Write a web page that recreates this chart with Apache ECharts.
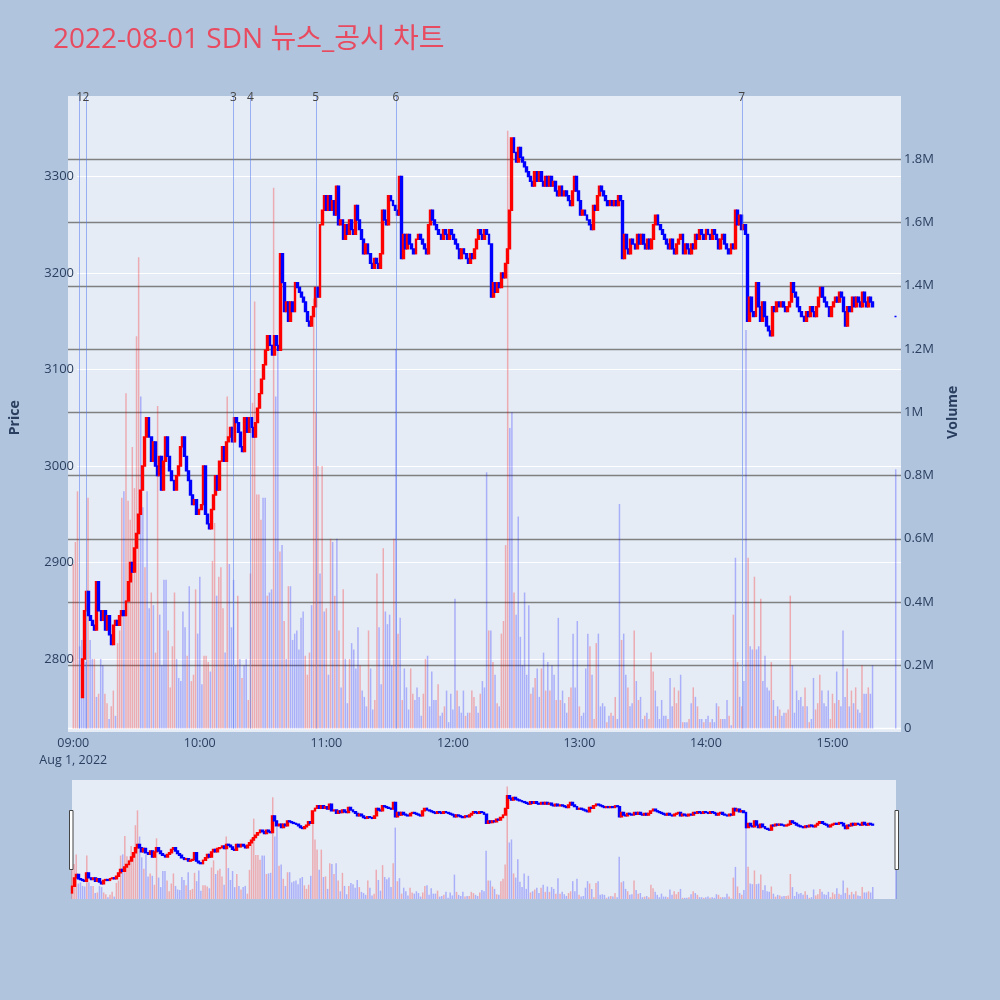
<!DOCTYPE html>
<html>
<head>
<meta charset="utf-8">
<script src="https://cdn.jsdelivr.net/npm/echarts@6/dist/echarts.min.js"></script>
<style>
html,body{margin:0;padding:0;background:#b0c4de;}
#chart{width:1000px;height:1000px;}
</style>
</head>
<body>
<div id="chart"></div>
<script>
// ---- data (1-minute candles from 09:00) ----
const sessionStart = '09:00';
const firstOpen = 2760;
const closes = [
  2800,2850,2870,2845,2840,2835,2830,2880,2850,2840,
  2850,2830,2845,2825,2815,2835,2840,2835,2845,2850,
  2845,2860,2880,2900,2890,2915,2930,2950,2975,3000,
  3030,3050,3030,3005,3025,3000,2990,3010,2975,3005,
  3030,3010,2995,2985,2975,2990,3000,3020,3030,3010,
  2995,2985,2970,2960,2965,2950,2955,2960,3000,2950,
  2940,2935,2955,2970,2990,2975,3005,3020,3005,3025,
  3030,3040,3025,3050,3045,3035,3020,3015,3050,3035,
  3050,3040,3030,3045,3060,3075,3090,3105,3120,3135,
  3125,3115,3135,3125,3120,3220,3190,3160,3170,3150,
  3170,3160,3190,3185,3180,3175,3170,3160,3150,3145,
  3155,3165,3185,3175,3250,3265,3280,3265,3280,3265,
  3275,3260,3290,3250,3255,3235,3250,3240,3255,3245,
  3240,3270,3255,3245,3235,3220,3230,3220,3210,3205,
  3215,3210,3205,3220,3265,3255,3250,3280,3275,3270,
  3265,3260,3300,3215,3240,3225,3240,3230,3225,3220,
  3235,3240,3235,3230,3225,3220,3250,3265,3255,3250,
  3245,3240,3235,3245,3240,3235,3245,3240,3235,3230,
  3225,3215,3225,3220,3215,3210,3220,3215,3225,3235,
  3245,3240,3235,3245,3240,3230,3175,3190,3180,3190,
  3185,3200,3195,3210,3225,3265,3340,3325,3315,3330,
  3320,3315,3310,3305,3300,3295,3290,3305,3295,3305,
  3295,3290,3300,3290,3300,3290,3295,3285,3280,3290,
  3280,3285,3280,3275,3270,3285,3300,3285,3275,3260,
  3265,3260,3255,3250,3245,3270,3265,3280,3290,3285,
  3280,3275,3270,3275,3270,3275,3270,3280,3275,3215,
  3240,3225,3220,3235,3230,3225,3240,3230,3240,3230,
  3225,3235,3225,3235,3250,3260,3250,3245,3240,3235,
  3230,3225,3235,3225,3220,3230,3235,3240,3220,3230,
  3225,3220,3230,3225,3240,3235,3245,3240,3235,3245,
  3240,3235,3245,3240,3235,3225,3235,3240,3230,3225,
  3220,3230,3225,3265,3250,3260,3245,3250,3240,3150,
  3175,3160,3155,3190,3165,3150,3170,3155,3145,3140,
  3135,3165,3160,3170,3165,3170,3165,3160,3165,3170,
  3190,3180,3175,3165,3160,3155,3150,3160,3155,3165,
  3160,3155,3165,3175,3185,3175,3170,3165,3155,3165,
  3170,3175,3170,3180,3175,3160,3145,3165,3160,3175,
  3165,3175,3170,3165,3180,3170,3165,3175,3170,3165
];
// volume per minute, millions of shares
const volumesM = [
  .52,.59,.75,.26,.28,.22,.21,.73,.28,.22,
  .22,.10,.11,.22,.20,.11,.08,.03,.07,.12,
  .04,.27,.31,.73,.75,1.06,.72,.66,.89,.76,
  1.24,1.49,1.05,.70,.51,.75,.38,.43,.39,.24,
  1.02,.36,.20,.47,.47,.31,.13,.26,.43,.22,
  .16,.15,.37,.32,.23,.45,.15,.17,.44,.30,
  .48,.14,.23,.23,.21,.18,.53,.65,.42,.48,
  .51,.38,.24,1.05,.52,.32,.47,.20,.42,.22,
  .16,.20,.22,.09,.49,1.03,1.35,.74,.74,.66,
  .73,.73,.42,.43,.44,1.71,1.05,1.21,.56,.58,
  .34,.22,.45,.45,.28,.30,.31,.25,.35,.37,
  .23,.17,.24,.39,1.36,1.0,.83,.49,.83,.37,
  .38,.17,.60,.59,.42,.60,.31,.13,.44,.22,
  .08,.22,.27,.25,.19,.32,.20,.12,.10,.07,
  .31,.19,.06,.09,.49,.32,.14,.57,.37,.33,
  .36,.20,.60,1.2,.30,.35,.09,.19,.13,.06,
  .19,.11,.09,.13,.10,.04,.11,.22,.23,.07,
  .18,.09,.09,.14,.04,.05,.07,.12,.02,.11,
  .06,.41,.12,.07,.05,.12,.04,.05,.05,.12,
  .10,.07,.05,.11,.15,.13,.81,.31,.31,.21,
  .17,.08,.07,.30,.34,.58,1.89,.95,1.0,.43,
  .36,.67,.29,.20,.43,.17,.39,.11,.13,.16,
  .19,.10,.19,.24,.12,.21,.12,.20,.17,.09,
  .35,.09,.12,.08,.05,.10,.13,.30,.13,.34,
  .07,.04,.05,.19,.30,.26,.17,.03,.27,.30,
  .07,.08,.07,.02,.04,.05,.04,.10,.03,.71,
  .28,.30,.17,.13,.07,.08,.31,.15,.09,.10,
  .03,.04,.05,.03,.24,.18,.12,.07,.03,.09,
  .04,.04,.03,.16,.07,.13,.08,.12,.17,.02,
  .02,.02,.03,.08,.13,.10,.07,.03,.03,.02,
  .03,.04,.02,.03,.02,.08,.07,.03,.03,.03,
  .09,.04,.01,.36,.54,.21,.10,.07,.15,1.26,
  .54,.26,.25,.48,.25,.26,.41,.15,.23,.13,
  .12,.21,.09,.04,.07,.06,.04,.05,.05,.06,
  .42,.20,.05,.12,.09,.10,.07,.13,.07,.02,
  .03,.16,.06,.08,.17,.12,.08,.07,.12,.03,
  .11,.08,.18,.09,.07,.31,.10,.19,.07,.12,
  .08,.13,.06,.05,.20,.11,.11,.13,.11,.20
];
// closing single-price auction
const auctionTime = '15:30';
const auctionPrice = 3155;
const auctionVolumeM = 0.82;
// news / disclosure markers
const eventTimes = ['09:03','09:06','10:16','10:24','10:55','11:33','14:17'];
const eventLabels = ['1','2','3','4','5','6','7'];
const titleText = '2022-08-01 SDN 뉴스_공시 차트';

// ---- helpers ----
function toMin(s){const p=s.split(':');return (+p[0])*60+(+p[1]);}
function toStr(m){const h=Math.floor(m/60),mm=m%60;return (h<10?'0':'')+h+':'+(mm<10?'0':'')+mm;}
const startMin = toMin(sessionStart);
const axisFrom = toMin('08:58'), axisTo = toMin('15:32');
const cats = []; for(let t=axisFrom;t<=axisTo;t++) cats.push(toStr(t));
const miniCats = []; for(let t=startMin;t<=toMin(auctionTime);t++) miniCats.push(toStr(t));

const UP='#ff0000', DOWN='#0000ff';
const UPV='rgba(255,0,0,0.28)', DOWNV='rgba(0,0,255,0.26)';

function buildSeriesData(catList){
  const k=new Array(catList.length).fill('-');
  const v=new Array(catList.length).fill('-');
  for(let i=0;i<closes.length;i++){
    const o = i===0?firstOpen:closes[i-1], c=closes[i];
    const idx = catList.indexOf(toStr(startMin+i));
    k[idx]=[o,c,Math.min(o,c),Math.max(o,c)];
    v[idx]={value:volumesM[i],itemStyle:{color:c>=o?UPV:DOWNV}};
  }
  const ai = catList.indexOf(auctionTime);
  k[ai]={value:[auctionPrice,auctionPrice,auctionPrice,auctionPrice],itemStyle:{color:DOWN,color0:DOWN,borderColor:DOWN,borderColor0:DOWN}};
  v[ai]={value:auctionVolumeM,itemStyle:{color:DOWNV}};
  return {k,v};
}
const mainData = buildSeriesData(cats);
const miniData = buildSeriesData(miniCats);

const FONT='"Open Sans", "Noto Sans CJK KR", sans-serif';
const TXT='#2a3f5f';
const candleStyle={color:UP,color0:DOWN,borderColor:UP,borderColor0:DOWN,borderWidth:1.4};

const chart = echarts.init(document.getElementById('chart'));
chart.setOption({
  animation:false,
  backgroundColor:'#b0c4de',
  textStyle:{fontFamily:FONT},
  title:{text:titleText,left:48,top:21,textStyle:{color:'#e84a5f',fontSize:28,fontWeight:'normal',fontFamily:FONT}},
  graphic:[
    {type:'rect',z:-10,silent:true,shape:{x:68,y:96,width:833,height:636},style:{fill:'#e5ecf6'}},
    {type:'rect',z:-10,silent:true,shape:{x:72,y:780,width:824,height:119},style:{fill:'#e5ecf6'}},
    {type:'rect',z:50,silent:true,shape:{x:69.5,y:810.5,width:3.5,height:59},style:{fill:'#ffffff',stroke:'#444',lineWidth:1}},
    {type:'rect',z:50,silent:true,shape:{x:895,y:810.5,width:3.5,height:59},style:{fill:'#ffffff',stroke:'#444',lineWidth:1}}
  ],
  grid:[
    {left:68,width:833,top:80,height:675.5},
    {left:68,width:833,top:96,height:632.5},
    {left:72,width:824,top:780,height:119},
    {left:72,width:824,top:780,height:119}
  ],
  xAxis:[
    {type:'category',gridIndex:0,data:cats,boundaryGap:true,show:false},
    {type:'category',gridIndex:1,data:cats,boundaryGap:true,
     axisLine:{show:false},axisTick:{show:false},splitLine:{show:false},
     axisLabel:{color:TXT,fontSize:12.5,fontFamily:FONT,margin:6,lineHeight:17,
       interval:function(i,v){return /:00$/.test(v);},
       formatter:function(v){return v===sessionStart?v+'\nAug 1, 2022':v;}}},
    {type:'category',gridIndex:2,data:miniCats,boundaryGap:false,show:false},
    {type:'category',gridIndex:3,data:miniCats,boundaryGap:false,show:false}
  ],
  yAxis:[
    {type:'value',gridIndex:0,min:2700,max:3400,interval:100,position:'left',
     axisLine:{show:false},axisTick:{show:false},
     axisLabel:{color:TXT,fontSize:13,fontFamily:FONT,margin:3,
       formatter:function(v){return (v<2750||v>3350)?'':String(v);}},
     splitLine:{show:true,lineStyle:{width:1,color:['rgba(0,0,0,0)','#ffffff','#ffffff','#ffffff','#ffffff','#ffffff','#ffffff','rgba(0,0,0,0)']}},
     name:'Price',nameLocation:'middle',nameRotate:90,nameGap:55,
     nameTextStyle:{color:TXT,fontSize:14,fontWeight:'bold',fontFamily:FONT}},
    {type:'value',gridIndex:1,min:0,max:2.0,interval:0.2,position:'right',
     axisLine:{show:false},axisTick:{show:false},
     axisLabel:{color:TXT,fontSize:13,fontFamily:FONT,margin:3,
       formatter:function(v){return v===0?'0':(v>1.95?'':(+v.toFixed(1))+'M');}},
     splitLine:{show:true,lineStyle:{width:1.3,color:['#ffffff','#808080','#808080','#808080','#808080','#808080','#808080','#808080','#808080','#808080','rgba(0,0,0,0)']}},
     name:'Volume',nameLocation:'middle',nameRotate:90,nameGap:45,
     nameTextStyle:{color:TXT,fontSize:14,fontWeight:'bold',fontFamily:FONT}},
    {type:'value',gridIndex:2,min:2724,max:3434,show:false},
    {type:'value',gridIndex:3,min:0,max:2.0,show:false}
  ],
  series:[
    {type:'bar',name:'Volume',xAxisIndex:1,yAxisIndex:1,data:mainData.v,barWidth:1.5,silent:true,
     markLine:{silent:true,symbol:['none','none'],
       lineStyle:{color:'rgba(90,125,240,0.55)',width:1,type:'solid'},
       label:{show:true,position:'end',distance:-8,formatter:'{b}',color:'#444',fontSize:12,fontFamily:FONT},
       data:eventTimes.map(function(t,i){return {xAxis:t,name:eventLabels[i]};})}},
    {type:'candlestick',name:'Price',xAxisIndex:0,yAxisIndex:0,data:mainData.k,barWidth:2.4,itemStyle:candleStyle,silent:true},
    {type:'bar',xAxisIndex:3,yAxisIndex:3,data:miniData.v,barWidth:1.5,silent:true},
    {type:'candlestick',xAxisIndex:2,yAxisIndex:2,data:miniData.k,barWidth:2.4,itemStyle:candleStyle,silent:true}
  ]
});
</script>
</body>
</html>
